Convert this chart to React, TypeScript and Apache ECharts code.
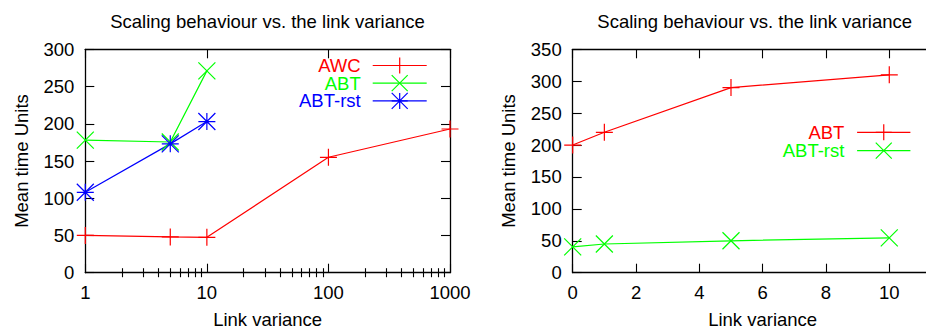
import React, { useEffect, useRef } from 'react';
import * as echarts from 'echarts';

const titleText = 'Scaling behaviour vs. the link variance';
const xName = 'Link variance';
const yName = 'Mean time Units';

// Left panel (log x axis)
const leftX = [1, 5, 10, 100, 1000];
const awcY = [50, 48, 47.5, 155, 193];
const leftX3 = [1, 5, 10];
const abtLeftY = [178, 175.5, 271];
const abtRstLeftY = [108, 173, 203];
const leftMinorTicks = [2, 3, 4, 5, 6, 7, 8, 9, 20, 30, 40, 50, 60, 70, 80, 90, 200, 300, 400, 500, 600, 700, 800, 900];
const leftYMax = 300;

// Right panel (linear x axis)
const rightX = [0, 1, 5, 10];
const abtRightY = [200, 220, 290, 310];
const abtRstRightY = [40.5, 45, 50, 54.5];
const rightXMax = 12;
const rightYMax = 350;

const RED = '#ff0000';
const GREEN = '#00ff00';
const BLUE = '#0000ff';
const FONT = '"Liberation Sans", Arial, sans-serif';
const FS = 18.5;

const PLUS = 'path://M8,0L8,16M0,8L16,8';
const CROSS = 'path://M0,0L16,16M0,16L16,0';
const STAR = 'path://M8,0L8,16M0,8L16,8M0,0L16,16M0,16L16,0';

const LW = 1.2;

function mkSeries(name: string, xs: number[], ys: number[], color: string, symbol: string) {
  return {
    type: 'line',
    name,
    data: xs.map((x, i) => [x, ys[i]]),
    xAxisIndex: 0,
    yAxisIndex: 0,
    symbol,
    symbolSize: 17,
    showSymbol: true,
    silent: true,
    emphasis: { disabled: true },
    lineStyle: { color, width: LW },
    itemStyle: { color: 'rgba(0,0,0,0)', borderColor: color, borderWidth: LW },
  };
}

function legendItem(name: string, color: string) {
  return {
    name,
    textStyle: { color },
    itemStyle: { color: 'rgba(0,0,0,0)', borderColor: color, borderWidth: LW },
    lineStyle: { color, width: LW },
  };
}

const axisLine = { show: true, onZero: false, lineStyle: { color: '#000', width: 1.3 } };
const majorTick = { show: true, inside: true, length: 9, lineStyle: { color: '#000', width: 1.1 } };
const labelStyle = { fontSize: FS, fontFamily: FONT, color: '#000' };
const nameStyle = { fontSize: FS, fontFamily: FONT, color: '#000' };

function titleGraphic(cx: number) {
  return {
    type: 'text',
    x: cx,
    y: 21,
    silent: true,
    style: {
      text: titleText,
      fontSize: FS,
      fontFamily: FONT,
      fill: '#000',
      align: 'center',
      verticalAlign: 'middle',
    },
  };
}

function leftOption() {
  const logBase = { type: 'log', logBase: 10, min: 1, max: 1000, gridIndex: 0, splitLine: { show: false } };
  return {
    animation: false,
    graphic: [titleGraphic(267.5)],
    grid: { left: 85.3, top: 49.3, width: 364.7, height: 223.4, outerBoundsMode: 'none', containLabel: false },
    legend: {
      orient: 'vertical',
      align: 'right',
      right: 498.7,
      top: 56,
      padding: 0,
      itemWidth: 54,
      itemHeight: 20,
      itemGap: -1.3,
      selectedMode: false,
      textStyle: { fontSize: FS, fontFamily: FONT, lineHeight: 18, padding: [0, 7, 0, 0] },
      data: [legendItem('AWC', RED), legendItem('ABT', GREEN), legendItem('ABT-rst', BLUE)],
    },
    xAxis: [
      {
        ...logBase,
        position: 'bottom',
        axisLine,
        axisTick: majorTick,
        axisLabel: { ...labelStyle, margin: 10, formatter: (v: number) => String(v) },
        name: xName,
        nameLocation: 'middle',
        nameGap: 37,
        nameTextStyle: nameStyle,
      },
      { ...logBase, position: 'top', axisLine, axisTick: majorTick, axisLabel: { show: false } },
      {
        ...logBase,
        position: 'bottom',
        axisLine: { show: false },
        axisTick: { show: true, inside: true, length: 4.5, customValues: leftMinorTicks, lineStyle: { color: '#000', width: 1.1 } },
        axisLabel: { show: false },
      },
      {
        ...logBase,
        position: 'top',
        axisLine: { show: false },
        axisTick: { show: true, inside: true, length: 4.5, customValues: leftMinorTicks, lineStyle: { color: '#000', width: 1.1 } },
        axisLabel: { show: false },
      },
    ],
    yAxis: [
      {
        type: 'value',
        min: 0,
        max: leftYMax,
        interval: 50,
        position: 'left',
        axisLine,
        axisTick: majorTick,
        axisLabel: { ...labelStyle, margin: 11 },
        splitLine: { show: false },
        name: yName,
        nameLocation: 'middle',
        nameGap: 54,
        nameRotate: 90,
        nameTextStyle: nameStyle,
      },
      {
        type: 'value',
        min: 0,
        max: leftYMax,
        interval: 50,
        position: 'right',
        axisLine,
        axisTick: majorTick,
        axisLabel: { show: false },
        splitLine: { show: false },
      },
    ],
    series: [
      mkSeries('AWC', leftX, awcY, RED, PLUS),
      mkSeries('ABT', leftX3, abtLeftY, GREEN, CROSS),
      mkSeries('ABT-rst', leftX3, abtRstLeftY, BLUE, STAR),
    ],
  };
}

function rightOption() {
  const xBase = { type: 'value', min: 0, max: rightXMax, interval: 2, splitLine: { show: false } };
  const yBase = { type: 'value', min: 0, max: rightYMax, interval: 50, splitLine: { show: false } };
  return {
    animation: false,
    graphic: [titleGraphic(754.7)],
    grid: { left: 572.7, top: 49.3, width: 379.9, height: 223.4, outerBoundsMode: 'none', containLabel: false },
    legend: {
      orient: 'vertical',
      align: 'right',
      right: 15,
      top: 122.8,
      padding: 0,
      itemWidth: 53.3,
      itemHeight: 20,
      itemGap: -0.7,
      selectedMode: false,
      textStyle: { fontSize: FS, fontFamily: FONT, lineHeight: 18, padding: [0, 7.7, 0, 0] },
      data: [legendItem('ABT', RED), legendItem('ABT-rst', GREEN)],
    },
    xAxis: [
      {
        ...xBase,
        position: 'bottom',
        axisLine,
        axisTick: majorTick,
        axisLabel: { ...labelStyle, margin: 10, showMaxLabel: false },
        name: xName,
        nameLocation: 'middle',
        nameGap: 37,
        nameTextStyle: nameStyle,
      },
      { ...xBase, position: 'top', axisLine, axisTick: majorTick, axisLabel: { show: false } },
    ],
    yAxis: [
      {
        ...yBase,
        position: 'left',
        axisLine,
        axisTick: majorTick,
        axisLabel: { ...labelStyle, margin: 11 },
        name: yName,
        nameLocation: 'middle',
        nameGap: 55,
        nameRotate: 90,
        nameTextStyle: nameStyle,
      },
      { ...yBase, position: 'right', axisLine, axisTick: majorTick, axisLabel: { show: false } },
    ],
    series: [
      mkSeries('ABT', rightX, abtRightY, RED, PLUS),
      mkSeries('ABT-rst', rightX, abtRstRightY, GREEN, CROSS),
    ],
  };
}

export default function App() {
  const leftRef = useRef<HTMLDivElement>(null);
  const rightRef = useRef<HTMLDivElement>(null);

  useEffect(() => {
    const l = echarts.init(leftRef.current!, undefined, { renderer: 'svg' });
    const r = echarts.init(rightRef.current!, undefined, { renderer: 'svg' });
    l.setOption(leftOption() as any);
    r.setOption(rightOption() as any);
    return () => {
      l.dispose();
      r.dispose();
    };
  }, []);

  const layer: React.CSSProperties = { position: 'absolute', left: 0, top: 0, width: 926, height: 329 };
  return (
    <div style={{ position: 'absolute', left: 0, top: 0, width: 926, height: 329, overflow: 'hidden', background: '#fff' }}>
      <div ref={leftRef} style={layer} />
      <div ref={rightRef} style={layer} />
    </div>
  );
}
